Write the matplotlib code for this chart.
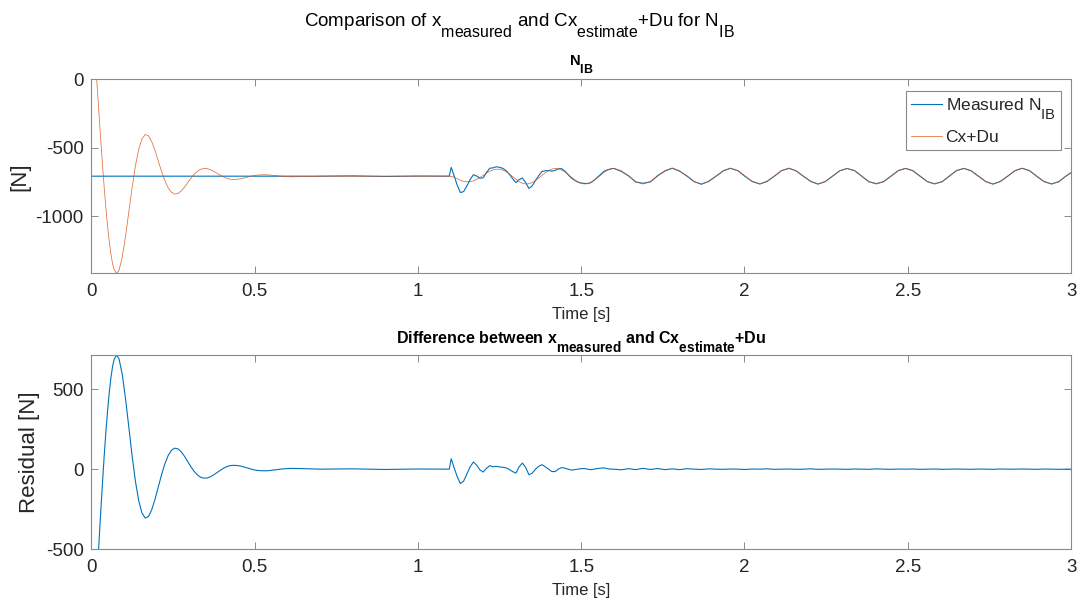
import numpy as np
import matplotlib
matplotlib.use("Agg")
import matplotlib.pyplot as plt
import matplotlib._mathtext as _mathtext

# ---------------------------------------------------------------------------
# Signals sampled on a non-uniform time base [s]
#   cx_du    : observer output Cx+Du [N]
#   residual : x_measured - (Cx+Du) [N]
# ---------------------------------------------------------------------------

# observer start-up (state initialised at zero)
t_startup = [0.000, 0.0165, 0.020, 0.024, 0.028, 0.032, 0.036, 0.040, 0.045,
             0.050, 0.055, 0.060, 0.065, 0.070, 0.0775]
cxdu_startup = [0, 0, -128, -272, -414, -552, -683, -808, -952,
                -1079, -1188, -1278, -1348, -1394, -1420]
res_startup = [-708, -708, -580, -436, -294, -156, -25, 100, 244,
               371, 480, 570, 640, 686, 712]

# damped settling of the observer
t_settle = [0.085, 0.095, 0.105, 0.115, 0.125, 0.135, 0.145, 0.155, 0.165, 0.175,
            0.185, 0.195, 0.205, 0.215, 0.225, 0.235, 0.245, 0.255, 0.265, 0.275,
            0.285, 0.295, 0.305, 0.315, 0.325, 0.335, 0.345, 0.355, 0.365, 0.375,
            0.385, 0.395, 0.405, 0.415, 0.425, 0.435, 0.445, 0.455, 0.465, 0.475,
            0.485, 0.495, 0.505, 0.515, 0.525, 0.535, 0.545, 0.555, 0.565, 0.575,
            0.585, 0.595, 0.605, 0.615, 0.625, 0.635]
cxdu_settle = [-1395, -1296, -1144, -967, -790, -633, -512, -435, -403, -412,
               -455, -520, -596, -673, -740, -792, -825, -839, -835, -817,
               -789, -756, -723, -694, -672, -657, -652, -653, -661, -673,
               -687, -701, -714, -724, -730, -732, -731, -728, -723, -717,
               -711, -705, -701, -699, -698, -698, -699, -702, -704, -707,
               -709, -711, -712, -713, -712, -712]
res_settle = [687, 588, 436, 259, 82, -75, -196, -273, -305, -296,
              -253, -188, -112, -35, 32, 84, 117, 131, 127, 109,
              81, 48, 15, -14, -36, -51, -56, -55, -47, -35,
              -21, -7, 6, 16, 22, 24, 23, 20, 15, 9,
              3, -3, -7, -9, -10, -10, -9, -6, -4, -1,
              1, 3, 4, 5, 4, 4]

# static load before the excitation starts
t_static = [0.70, 0.80, 0.90, 1.00, 1.09]
cxdu_static = [-708, -708, -708, -708, -708]
res_static = [0, 2, -2, 1, 0]

# onset of the periodic excitation
t_onset = [1.096, 1.102, 1.110, 1.120, 1.130, 1.140, 1.150, 1.160, 1.170, 1.180,
           1.190, 1.200, 1.210, 1.220, 1.230, 1.240, 1.250, 1.260, 1.270, 1.280,
           1.290, 1.300, 1.310, 1.320, 1.330, 1.340, 1.350, 1.360, 1.370, 1.380,
           1.390, 1.400, 1.410, 1.420, 1.430, 1.440, 1.450, 1.460, 1.470, 1.480,
           1.490, 1.500, 1.510, 1.520, 1.530, 1.540, 1.550, 1.560, 1.570, 1.580,
           1.590]
cxdu_onset = [-708, -709, -714, -726, -738, -746, -749, -748, -742, -732,
              -718, -702, -686, -672, -662, -657, -657, -663, -675, -692,
              -711, -730, -748, -760, -765, -763, -754, -740, -722, -702,
              -683, -667, -656, -651, -654, -663, -677, -696, -716, -735,
              -751, -761, -765, -762, -752, -737, -719, -699, -680, -665,
              -655]
res_onset = [0, 65, 15, -45, -90, -75, -30, 15, 45, 25,
             -5, -18, 5, 22, 15, 18, 14, 12, 8, -2,
             -15, -25, 15, 38, 10, -35, -25, 0, 18, 28,
             15, 0, -15, -15, 0, 10, 6, 0, -6, -3,
             0, 3, 4, 0, -3, 0, 4, 6, 8, 3,
             0]

# steady periodic response
t_steady = [1.600, 1.622, 1.645, 1.667, 1.689, 1.712, 1.734, 1.756,
            1.779, 1.801, 1.823, 1.846, 1.868, 1.890, 1.913, 1.935,
            1.957, 1.980, 2.002, 2.024, 2.047, 2.069, 2.091, 2.113,
            2.136, 2.158, 2.180, 2.203, 2.225, 2.247, 2.270, 2.292,
            2.314, 2.337, 2.359, 2.381, 2.404, 2.426, 2.448, 2.471,
            2.493, 2.515, 2.538, 2.560, 2.582, 2.605, 2.627, 2.649,
            2.672, 2.694, 2.716, 2.739, 2.761, 2.783, 2.806, 2.828,
            2.850, 2.873, 2.895, 2.917, 2.940, 2.962, 2.984, 3.000]
cxdu_steady = [-651, -668, -708, -748, -765, -748, -708, -668,
               -651, -668, -708, -748, -765, -748, -708, -668,
               -651, -668, -708, -748, -765, -748, -708, -668,
               -651, -668, -708, -748, -765, -748, -708, -668,
               -651, -668, -708, -748, -765, -748, -708, -668,
               -651, -668, -708, -748, -765, -748, -708, -668,
               -651, -668, -708, -748, -765, -748, -708, -668,
               -651, -668, -708, -748, -765, -748, -708, -682]
res_steady = [0, -4, 3, -3, 5, -2, 4, -3,
              2, -3, 3, 0, -2, 2, 0, -1,
              1, 0, -2, 1, 0, 2, -1, 0,
              1, -1, 0, 2, -1, 0, 1, 0,
              -1, 1, 0, -1, 2, 0, -1, 1,
              0, 1, -1, 0, 1, -1, 0, 1,
              0, -1, 1, 0, -1, 1, 0, 0,
              1, 0, -1, 1, 0, -1, 0, 0]

time_s = np.array(t_startup + t_settle + t_static + t_onset + t_steady)
cx_du = np.array(cxdu_startup + cxdu_settle + cxdu_static + cxdu_onset + cxdu_steady, float)
residual = np.array(res_startup + res_settle + res_static + res_onset + res_steady, float)
measured = cx_du + residual

x_ticks = [0, 0.5, 1, 1.5, 2, 2.5, 3]
x_ticklabels = ["0", "0.5", "1", "1.5", "2", "2.5", "3"]
top_yticks = [-1000, -500, 0]
bottom_yticks = [-500, 0, 500]

# ---------------------------------------------------------------------------
plt.rcParams["font.family"] = ["Liberation Sans", "DejaVu Sans"]
plt.rcParams["mathtext.fontset"] = "custom"
plt.rcParams["mathtext.rm"] = "Liberation Sans"
plt.rcParams["mathtext.it"] = "Liberation Sans:italic"
plt.rcParams["mathtext.bf"] = "Liberation Sans:bold"
plt.rcParams["axes.unicode_minus"] = False

# TeX-like subscripts: large and well below the baseline
_mathtext.SHRINK_FACTOR = 0.85
_mathtext.FontConstantsBase.sub1 = 1.1
_mathtext.FontConstantsBase.sub2 = 1.1

BLUE = "#0072BD"
ORANGE = "#D95319"
TXT = "#262626"
EDGE = "#8a8a8a"

fig = plt.figure(figsize=(10.82, 6.05), dpi=100)
ax1 = fig.add_axes([0.0844, 0.548, 0.9055, 0.3207])
ax2 = fig.add_axes([0.0844, 0.0921, 0.9055, 0.321])


def style(ax):
    for s in ax.spines.values():
        s.set_color(EDGE)
        s.set_linewidth(0.8)
    ax.tick_params(direction="in", length=5, width=0.7, color=EDGE,
                   top=True, right=True, labelsize=13.5, labelcolor=TXT)
    ax.tick_params(axis="x", pad=7)
    ax.tick_params(axis="y", pad=5.5)
    ax.set_xlim(0, 3)
    ax.set_xticks(x_ticks)
    ax.set_xticklabels(x_ticklabels)


# upper panel: measured vs. observer output
ax1.plot(time_s, measured, color=BLUE, lw=0.8, label="Measured N$_{\\mathregular{IB}}$")
ax1.plot(time_s, cx_du, color=ORANGE, lw=0.55, alpha=0.85, label="Cx+Du")
style(ax1)
ax1.set_ylim(-1420, 0)
ax1.set_yticks(top_yticks)
ax1.set_ylabel("[N]", fontsize=16, color=TXT)
ax1.yaxis.set_label_coords(-0.0626, 0.5)
ax1.set_xlabel("Time [s]", fontsize=12, color=TXT)
ax1.xaxis.set_label_coords(0.5, -0.174)
ax1.xaxis.label.set_va("top")
ax1.text(0.5, 1.072, "N$_{\\mathregular{IB}}$", transform=ax1.transAxes,
         ha="center", va="baseline", fontsize=10.5, fontweight="bold", color="black")
leg = ax1.legend(loc="upper right", bbox_to_anchor=(0.9895, 0.9397), borderaxespad=0,
                 fontsize=12.5, frameon=True, fancybox=False, framealpha=1,
                 handlelength=1.8, handletextpad=0.2, borderpad=0.3, labelspacing=0.45)
leg.get_frame().set_edgecolor(EDGE)
leg.get_frame().set_linewidth(0.8)
for txt in leg.get_texts():
    txt.set_color(TXT)

# lower panel: residual
ax2.plot(time_s, residual, color=BLUE, lw=0.8)
style(ax2)
ax2.set_ylim(-500, 712)
ax2.set_yticks(bottom_yticks)
ax2.set_ylabel("Residual [N]", fontsize=16, color=TXT)
ax2.yaxis.set_label_coords(-0.0524, 0.5)
ax2.set_xlabel("Time [s]", fontsize=12, color=TXT)
ax2.xaxis.set_label_coords(0.5, -0.173)
ax2.xaxis.label.set_va("top")
ax2.text(0.5, 1.06, "Difference between x$_{\\mathregular{measured}}$ and "
         "Cx$_{\\mathregular{estimate}}$+Du", transform=ax2.transAxes,
         ha="center", va="baseline", fontsize=11.5, fontweight="bold", color="black")

fig.text(0.48, 0.957, "Comparison of x$_{\\mathregular{measured}}$ and "
         "Cx$_{\\mathregular{estimate}}$+Du for N$_{\\mathregular{IB}}$",
         ha="center", va="baseline", fontsize=13.5, color="black")

fig.savefig("out.png", dpi=100)
